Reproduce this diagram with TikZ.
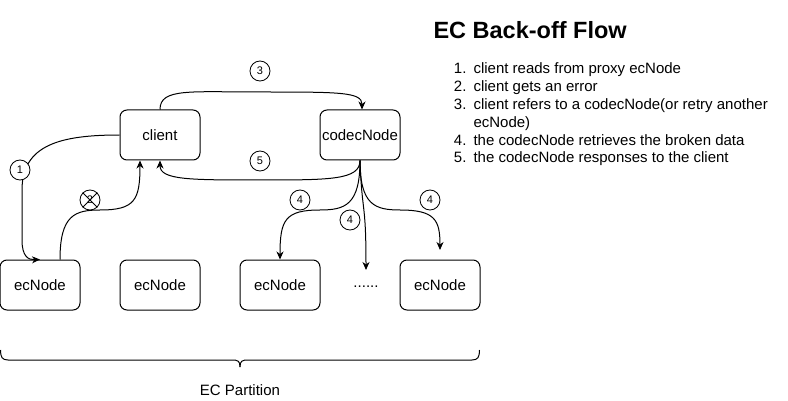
\documentclass[tikz,border=0pt]{standalone}
\usepackage{fontspec}
\setmainfont{Liberation Sans}
\usetikzlibrary{arrows.meta,calc}
\begin{document}
\begin{tikzpicture}[x=1pt,y=-1pt,line width=1pt,
  box/.style={draw,rounded corners=7pt,minimum width=80pt,minimum height=50pt,inner sep=0pt,font=\fontsize{15}{18}\selectfont},
  num/.style={draw,circle,fill=white,minimum size=20pt,inner sep=0pt,line width=0.8pt,font=\fontsize{11}{13}\selectfont},
  arr/.style={-{Stealth[length=8pt,width=7pt,inset=2.5pt]}},
  txt/.style={inner sep=0pt,font=\fontsize{15}{18}\selectfont}]
\useasboundingbox (0,0) rectangle (788,401);

% boxes
\node[box] (client) at (160,135) {client};
\node[box] (codec) at (360,135) {codecNode};
\node[box] (ecA) at (40,285) {ecNode};
\node[box] (ecB) at (160,285) {ecNode};
\node[box] (ecC) at (280,285) {ecNode};
\node[box] (ecD) at (440,285) {ecNode};
\node[txt] (dots) at (366,287) {......};
\coordinate (dotsTop) at (366,270);
\coordinate (ecDtop) at (440,250);

% edges
\draw[arr] (client.west) .. controls (60,135) and (22,145) .. (22,190) -- (22,240) .. controls (22,256) and (28,260) .. (ecA.north);
\draw[arr] ($(ecA.north)+(20,0)$) .. controls (60,215) and (75,210) .. (100,210) .. controls (135,210) and (140,200) .. ($(client.south)+(-20,0)$);
\draw[arr] (client.north) .. controls (160,88) and (190,92) .. (260,92) .. controls (340,92) and (362,92) .. ($(codec.north)+(2,0)$);
\draw[arr] (codec.south) .. controls (360,180) and (330,180) .. (260,180) .. controls (190,180) and (160,180) .. (client.south);
\draw[arr] (codec.south) .. controls (360,205) and (345,210) .. (320,210) .. controls (285,210) and (280,220) .. (ecC.north);
\draw[arr] (codec.south) .. controls (362,215) and (366,200) .. (dotsTop);
\draw[arr] (codec.south) .. controls (360,205) and (375,210) .. (400,210) .. controls (435,210) and (440,220) .. (ecDtop);

% step markers
\node[num] (c3) at (260,71) {3};
\node[num] (c5) at (260,161) {5};
\node[num] (c1) at (20,170) {1};
\node[num] (c2) at (90,200) {2};
\draw[line width=0.8pt] (c2.north west) -- (c2.south east) (c2.north east) -- (c2.south west);
\node[num] (c4a) at (300,200) {4};
\node[num] (c4b) at (350,220) {4};
\node[num] (c4c) at (430,200) {4};

% brace
\draw (0.5,350) .. controls (0.5,357) and (2,360) .. (8,360) -- (232,360) .. controls (238,360) and (240,361) .. (240,367);
\draw (479.5,350) .. controls (479.5,357) and (478,360) .. (472,360) -- (248,360) .. controls (242,360) and (240,361) .. (240,367);
\node[txt] (part) at (240,390) {EC Partition};

% title and list
\node[inner sep=0pt,anchor=base west,font=\fontsize{23.5}{28}\selectfont\bfseries] (title) at (433,38.5) {EC Back-off Flow};
\node[txt,anchor=base east] (n1) at (467,73.5) {1.};
\node[txt,anchor=base west] (t1) at (473,73.5) {client reads from proxy ecNode};
\node[txt,anchor=base east] (n2) at (467,91.4) {2.};
\node[txt,anchor=base west] (t2) at (473,91.4) {client gets an error};
\node[txt,anchor=base east] (n3) at (467,109.3) {3.};
\node[txt,anchor=base west] (t3) at (473,109.3) {client refers to a codecNode(or retry another};
\node[txt,anchor=base west] (t3b) at (473,127.2) {ecNode)};
\node[txt,anchor=base east] (n4) at (467,145.1) {4.};
\node[txt,anchor=base west] (t4) at (473,145.1) {the codecNode retrieves the broken data};
\node[txt,anchor=base east] (n5) at (467,163) {5.};
\node[txt,anchor=base west] (t5) at (473,163) {the codecNode responses to the client};
\end{tikzpicture}
\end{document}
